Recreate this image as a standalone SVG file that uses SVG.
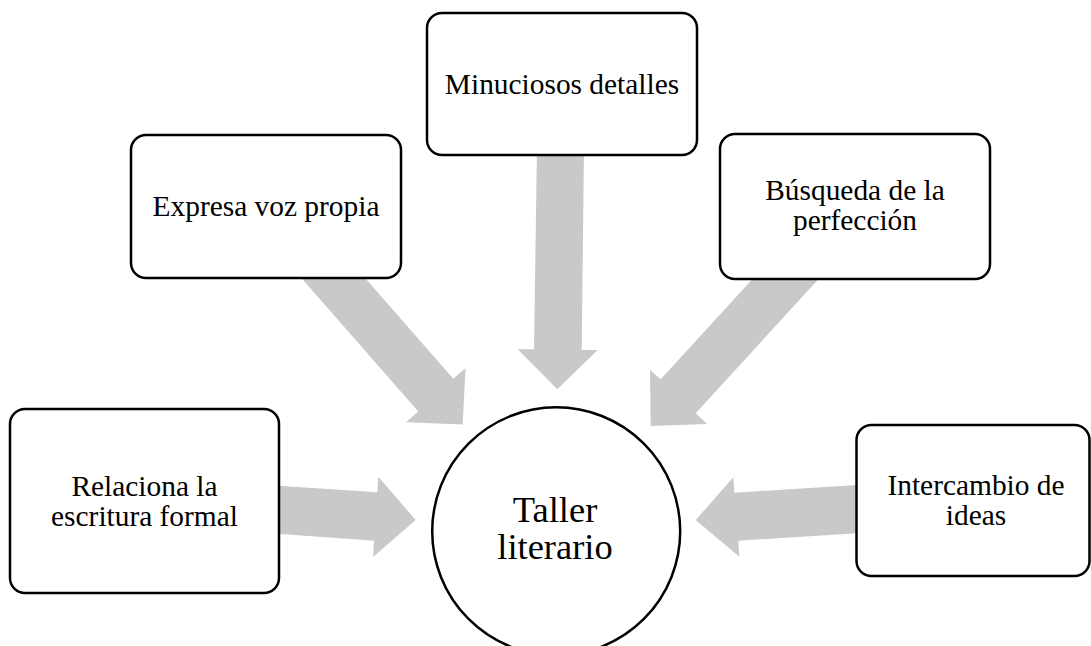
<svg xmlns="http://www.w3.org/2000/svg" width="1091" height="646" viewBox="0 0 1091 646">
<style>
.box{fill:#ffffff;stroke:#000000;stroke-width:2.5}
.arrow{fill:#c9c9c9;stroke:none}
.t{font-family:"Liberation Serif","Times New Roman",serif;font-size:29.4px;fill:#000000;text-anchor:middle}
.tc{font-family:"Liberation Serif","Times New Roman",serif;font-size:36.5px;fill:#000000;text-anchor:middle}
</style>
<rect width="1091" height="646" fill="#ffffff"/>
<g id="connectors">
<polygon class="arrow" points="270,485.3 377.3,492.3 378.3,476.7 415.7,520 373.3,556.7 374,540.7 270,533.3"/>
<polygon class="arrow" points="695.7,520 733.3,477.3 734.3,492.7 865,484.5 865,532.8 738.3,540.7 739.3,556.7"/>
<polygon class="arrow" points="537,145 584,145 581.7,350 597.7,350 557.3,389.3 517.7,349.3 534,349.3"/>
<polygon class="arrow" points="290,265 353.7,265 453.3,378.8 465.5,368.3 462.7,424.5 406,422.3 418.3,411.5"/>
<polygon class="arrow" points="831.4,265 765.3,265 660.7,379.3 650,370 650.7,426 707.3,424 695.7,413.3"/>
</g>
<g id="node-center">
<circle class="box" cx="556.2" cy="531.3" r="124"/>
<text class="tc" x="555" y="521.7">Taller</text>
<text class="tc" x="555" y="559.3">literario</text>
</g>
<g id="node-expresa">
<rect class="box" x="131" y="135" width="270" height="143" rx="15"/>
<text class="t" x="266" y="216">Expresa voz propia</text>
</g>
<g id="node-minuciosos">
<rect class="box" x="427" y="13" width="270" height="142" rx="15"/>
<text class="t" x="562" y="94">Minuciosos detalles</text>
</g>
<g id="node-busqueda">
<rect class="box" x="720" y="134" width="270" height="145" rx="15"/>
<text class="t" x="855" y="200">Búsqueda de la</text>
<text class="t" x="855" y="230">perfección</text>
</g>
<g id="node-relaciona">
<rect class="box" x="10" y="409" width="269" height="184" rx="15"/>
<text class="t" x="144.5" y="496">Relaciona la</text>
<text class="t" x="144.5" y="525.5">escritura formal</text>
</g>
<g id="node-intercambio">
<rect class="box" x="856.5" y="425" width="233" height="151" rx="15"/>
<text class="t" x="976" y="495">Intercambio de</text>
<text class="t" x="976" y="524.5">ideas</text>
</g>
</svg>
